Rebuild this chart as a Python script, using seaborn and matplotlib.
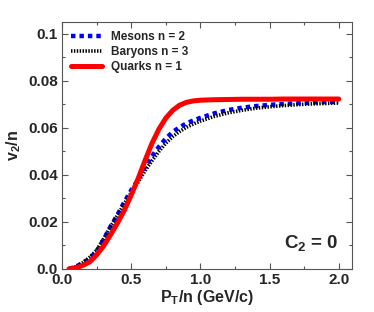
import pandas as pd
import matplotlib
matplotlib.use("Agg")
import matplotlib.pyplot as plt
import seaborn as sns
from matplotlib.ticker import MultipleLocator

sns.set_style("ticks")
plt.rcParams["font.family"] = ["Liberation Sans", "DejaVu Sans"]
plt.rcParams["font.weight"] = "bold"
plt.rcParams["mathtext.fontset"] = "custom"
plt.rcParams["mathtext.bf"] = "Liberation Sans:bold"
plt.rcParams["mathtext.rm"] = "Liberation Sans:bold"
plt.rcParams["mathtext.default"] = "bf"

# pT/n values (GeV/c)
pt = [0.05, 0.1, 0.15, 0.2, 0.25, 0.3, 0.35, 0.4, 0.45, 0.5, 0.55, 0.6, 0.65, 0.7, 0.75,
      0.8, 0.85, 0.9, 0.95, 1.0, 1.1, 1.2, 1.3, 1.4, 1.5, 1.6, 1.7, 1.8, 1.9, 2.0]

mesons = [0.0, 0.001, 0.0025, 0.0045, 0.0075, 0.0125, 0.018, 0.023, 0.0285, 0.0335, 0.038,
          0.0435, 0.048, 0.052, 0.0555, 0.0583, 0.0603, 0.062, 0.0632, 0.0643, 0.0662, 0.0676,
          0.0686, 0.0693, 0.0698, 0.0702, 0.0705, 0.0708, 0.071, 0.0711]

baryons = [0.0, 0.001, 0.0027, 0.005, 0.008, 0.0128, 0.018, 0.0228, 0.0278, 0.0325, 0.037,
           0.0418, 0.046, 0.05, 0.0535, 0.0563, 0.0585, 0.0603, 0.0617, 0.0629, 0.0649, 0.0664,
           0.0675, 0.0684, 0.069, 0.0695, 0.0699, 0.0702, 0.0704, 0.0706]

quarks = [0.0, 0.0005, 0.0015, 0.003, 0.006, 0.0098, 0.0145, 0.0195, 0.025, 0.0315, 0.0385,
          0.0462, 0.0535, 0.0595, 0.0642, 0.0675, 0.0697, 0.0709, 0.0715, 0.0718, 0.072, 0.0721,
          0.0722, 0.0722, 0.0722, 0.0723, 0.0723, 0.0723, 0.0723, 0.0723]

df = pd.DataFrame({"pt": pt, "Mesons n = 2": mesons, "Baryons n = 3": baryons,
                   "Quarks n = 1": quarks})

fig = plt.figure(figsize=(3.74, 3.12), dpi=100)
ax = fig.add_axes([0.166, 0.138, 0.775, 0.791])

sns.lineplot(data=df, x="pt", y="Mesons n = 2", ax=ax, color="blue", lw=3.2,
             linestyle=(0, (1, 0.9)), dash_capstyle="butt", label="Mesons n = 2")
sns.lineplot(data=df, x="pt", y="Baryons n = 3", ax=ax, color="black", lw=2.6,
             linestyle=(0, (0.4, 0.4)), dash_capstyle="butt", label="Baryons n = 3")
sns.lineplot(data=df, x="pt", y="Quarks n = 1", ax=ax, color="red", lw=3.6,
             label="Quarks n = 1")

ax.set_xlim(0, 2.095)
ax.set_ylim(0, 0.105)
ax.xaxis.set_minor_locator(MultipleLocator(0.25))
ax.yaxis.set_minor_locator(MultipleLocator(0.01))
ax.set_xticks([0, 0.5, 1.0, 1.5, 2.0])
ax.set_xticklabels(["0.0", "0.5", "1.0", "1.5", "2.0"])
ax.set_yticks([0, 0.02, 0.04, 0.06, 0.08, 0.1])
ax.set_yticklabels(["0.0", "0.02", "0.04", "0.06", "0.08", "0.1"])
ax.tick_params(which="both", direction="in", top=True, right=True, color="#555555",
               labelsize=11, width=0.8)
ax.tick_params(which="major", length=4, pad=3)
ax.tick_params(which="minor", length=2.5)
for s in ax.spines.values():
    s.set_color("#555555")
    s.set_linewidth(0.8)

ax.set_xlabel("P$_T$/n (GeV/c)", fontsize=11.5, fontweight="bold", labelpad=1)
ax.set_ylabel("v$_2$/n", fontsize=11.5, fontweight="bold", labelpad=4)

ax.text(0.955, 0.065, "C$_2$ = 0", transform=ax.transAxes, ha="right", va="bottom",
        fontsize=13.5, fontweight="bold")

leg = ax.legend(loc="upper left", frameon=False, fontsize=8.5, handlelength=2.6,
                borderaxespad=0.35, labelspacing=0.25, handletextpad=0.8)
for t in leg.get_texts():
    t.set_fontweight("bold")

fig.savefig("out.png", dpi=100)
